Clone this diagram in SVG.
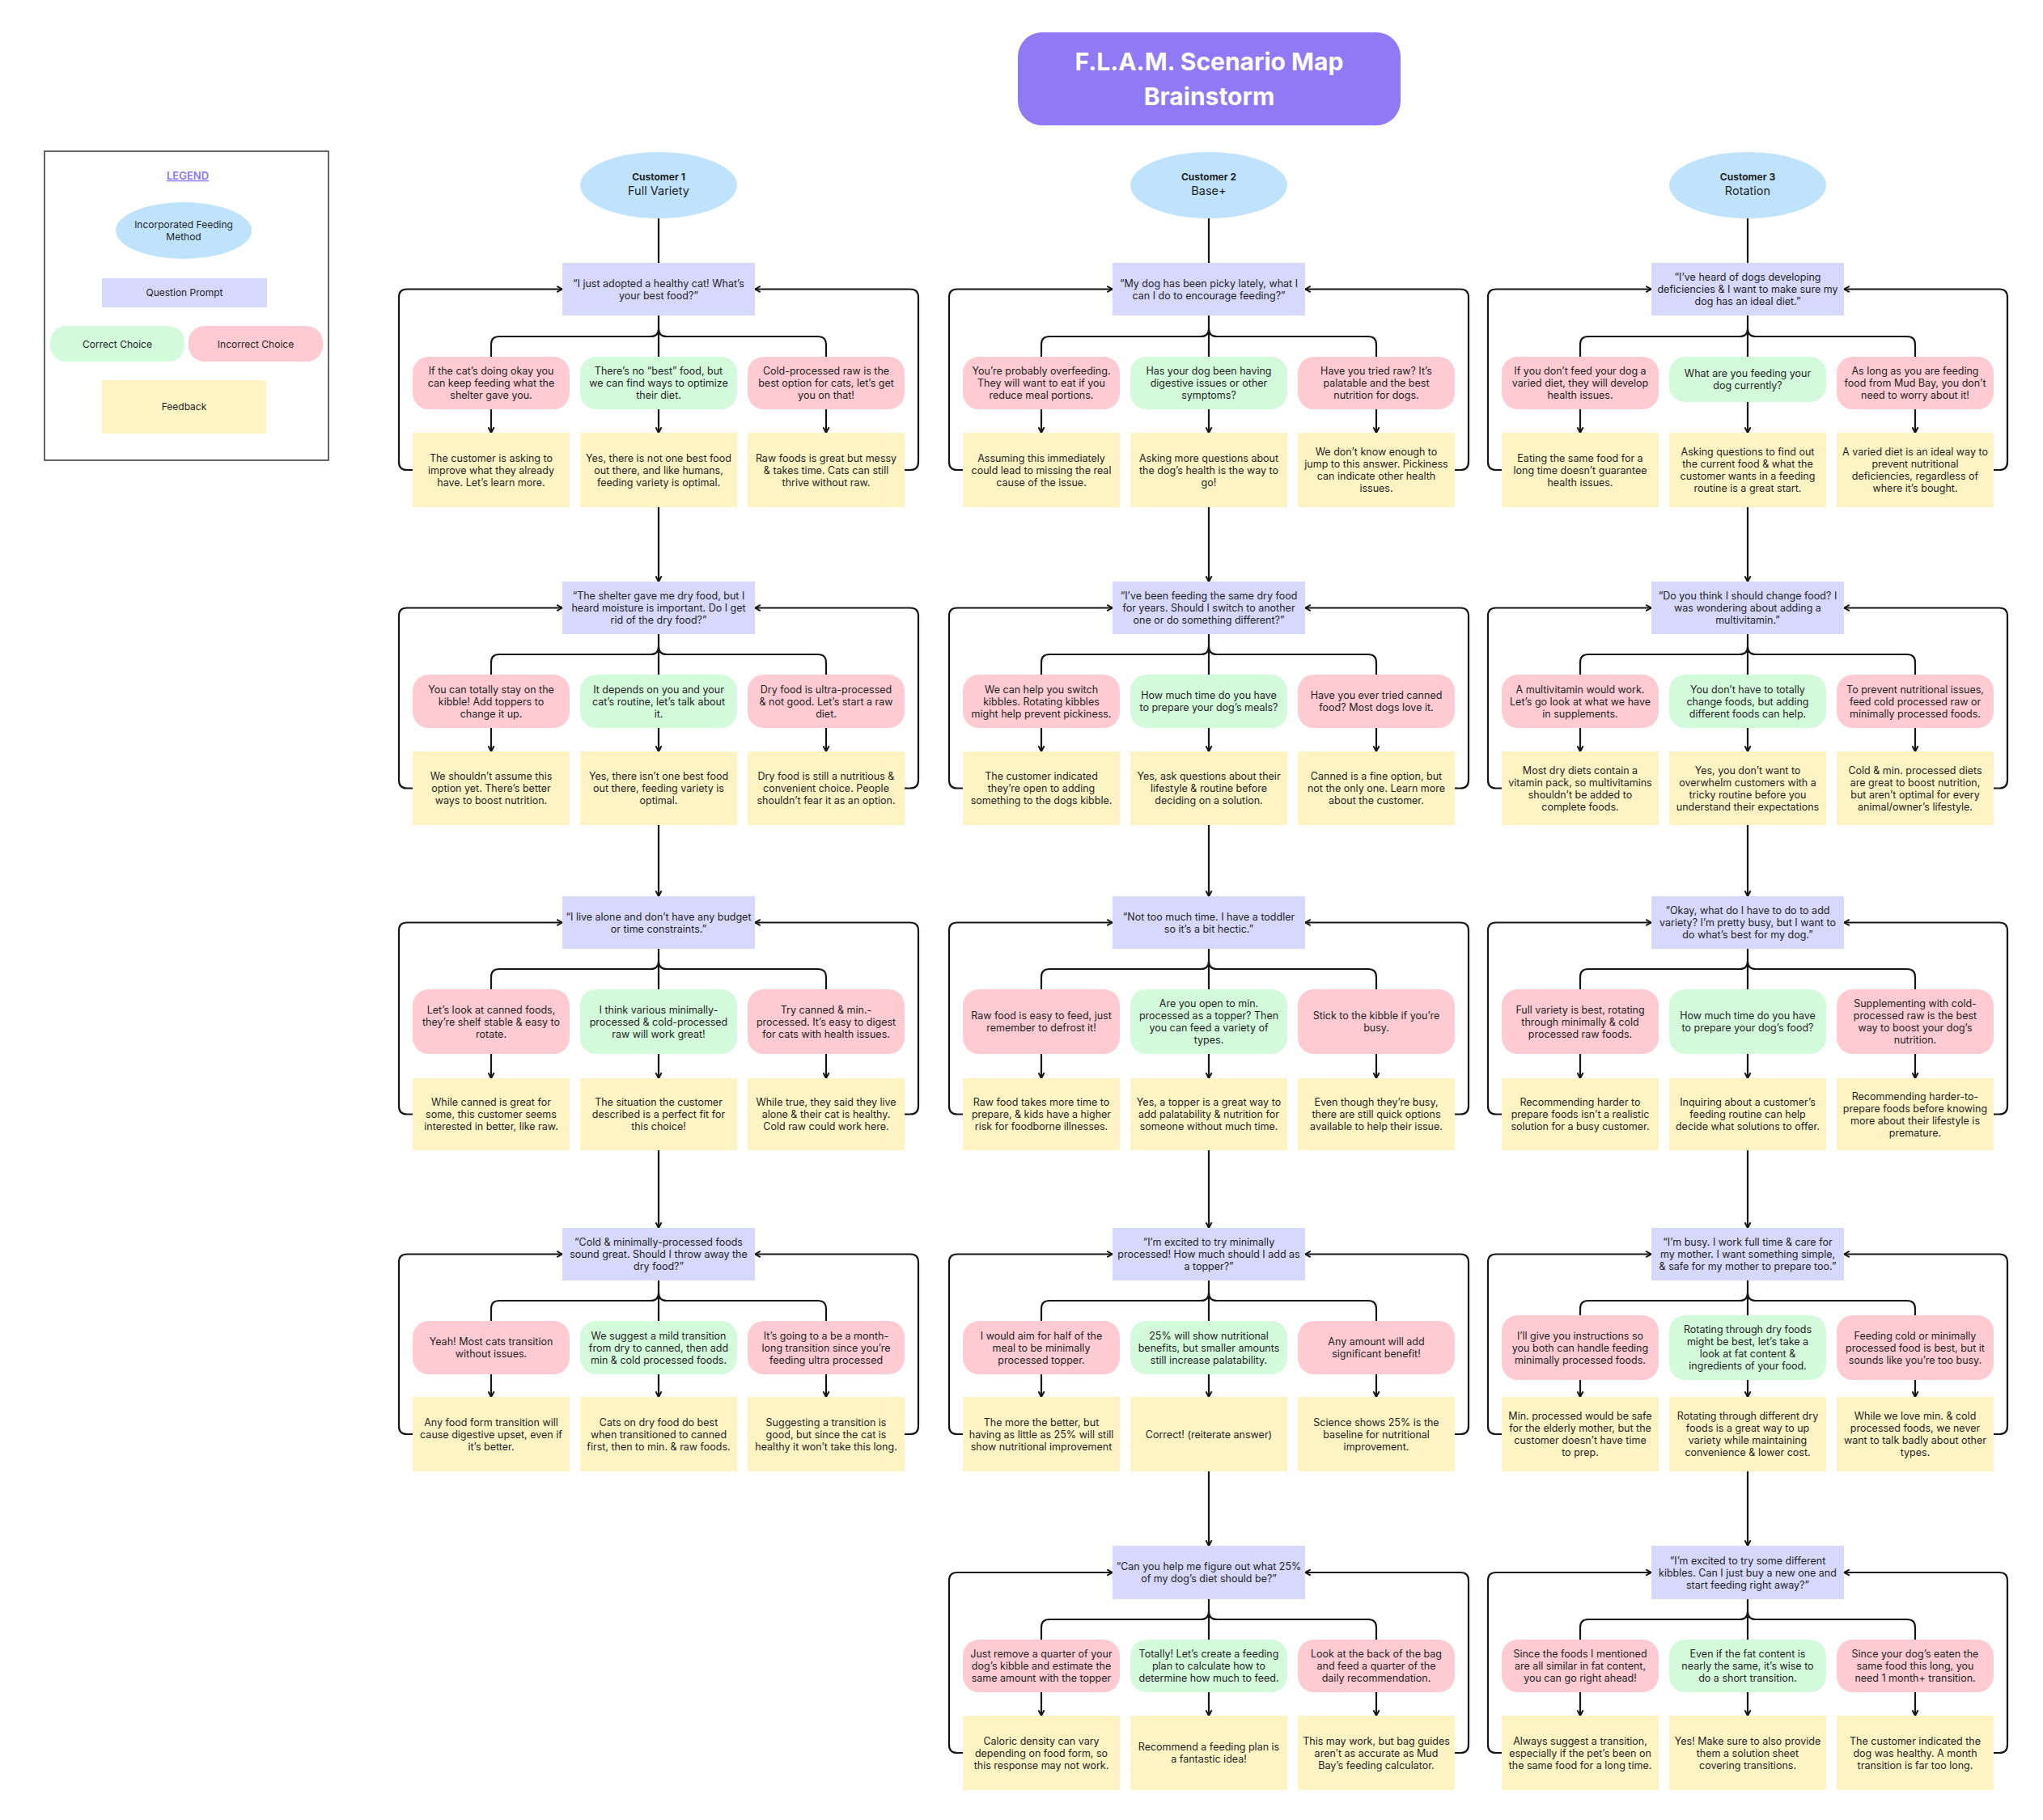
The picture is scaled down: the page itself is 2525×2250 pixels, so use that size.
<svg xmlns="http://www.w3.org/2000/svg" width="2525" height="2250" viewBox="0 0 2525 2250">
<defs>
<marker id="ah" viewBox="0 0 10 10" refX="9.5" refY="5" markerWidth="9" markerHeight="9" markerUnits="userSpaceOnUse" orient="auto">
<path d="M2,1 L9.5,5 L2,9" fill="none" stroke="#161616" stroke-width="2.2"/>
</marker>
<style>
.ln{fill:none;stroke:#161616;stroke-width:2.2}
.ar{marker-end:url(#ah)}
.t{font-family:Inter,"Liberation Sans",sans-serif;font-size:12.5px;fill:#1f1f1f;text-anchor:middle}
.ot{font-family:Inter,"Liberation Sans",sans-serif;font-size:14.5px;fill:#1f1f1f;text-anchor:middle}
.ob{font-family:Inter,"Liberation Sans",sans-serif;font-size:12px;font-weight:700;fill:#1f1f1f;text-anchor:middle}
.pr{fill:#d6d8fd}
.ok{fill:#d4fadc}
.no{fill:#fecbd2}
.fb{fill:#fef3c3}
.ov{fill:#bfe3fd}
</style>
</defs>
<rect width="2525" height="2250" fill="#ffffff"/>

<g id="title">
<rect x="1258" y="40" width="473" height="115" rx="30" fill="#9079f5"/>
<text x="1494.5" y="87" style="font-family:Inter,'Liberation Sans',sans-serif;font-size:30px;font-weight:700;fill:#ffffff;text-anchor:middle">F.L.A.M. Scenario Map</text>
<text x="1494.5" y="130" style="font-family:Inter,'Liberation Sans',sans-serif;font-size:30px;font-weight:700;fill:#ffffff;text-anchor:middle">Brainstorm</text>
</g>

<g id="legend">
<rect x="55" y="187" width="351" height="382" fill="#ffffff" stroke="#333333" stroke-width="1.5"/>
<text x="232" y="222" style="font-family:Inter,'Liberation Sans',sans-serif;font-size:13px;font-weight:600;fill:#8a78f0;text-anchor:middle;text-decoration:underline">LEGEND</text>
<ellipse class="ov" cx="227" cy="285" rx="84" ry="35"/>
<text class="t" x="227" y="282" style="font-size:12px">Incorporated Feeding<tspan x="227" dy="15">Method</tspan></text>
<rect class="pr" x="126" y="344" width="204" height="36"/>
<text class="t" x="228" y="366" style="font-size:12px">Question Prompt</text>
<rect class="ok" x="62" y="403" width="166" height="44" rx="20"/>
<text class="t" x="145" y="429.5" style="font-size:12px">Correct Choice</text>
<rect class="no" x="233" y="403" width="166" height="44" rx="20"/>
<text class="t" x="316" y="429.5" style="font-size:12px">Incorrect Choice</text>
<rect class="fb" x="126" y="470" width="203" height="66"/>
<text class="t" x="227.5" y="507" style="font-size:12px">Feedback</text>
</g>

<g id="connectors">
<!-- Column 1 -->
<path class="ln" d="M814,270V325"/>
<path class="ln" d="M814,390V441M814,406Q814,416 804,416H617Q607,416 607,426V441M814,406Q814,416 824,416H1011Q1021,416 1021,426V441"/>
<path class="ln ar" d="M607,506V535"/><path class="ln ar" d="M814,506V535"/><path class="ln ar" d="M1021,506V535"/>
<path class="ln ar" d="M510,581H503Q493,581 493,571V367.5Q493,357.5 503,357.5H695"/>
<path class="ln ar" d="M1118,581H1125Q1135,581 1135,571V367.5Q1135,357.5 1125,357.5H933"/>
<path class="ln ar" d="M814,627V719"/>

<path class="ln" d="M814,784V834M814,799Q814,809 804,809H617Q607,809 607,819V834M814,799Q814,809 824,809H1011Q1021,809 1021,819V834"/>
<path class="ln ar" d="M607,900V929"/><path class="ln ar" d="M814,900V929"/><path class="ln ar" d="M1021,900V929"/>
<path class="ln ar" d="M510,974.5H503Q493,974.5 493,964.5V761.5Q493,751.5 503,751.5H695"/>
<path class="ln ar" d="M1118,974.5H1125Q1135,974.5 1135,964.5V761.5Q1135,751.5 1125,751.5H933"/>
<path class="ln ar" d="M814,1020V1108"/>

<path class="ln" d="M814,1173V1223M814,1188Q814,1198 804,1198H617Q607,1198 607,1208V1223M814,1188Q814,1198 824,1198H1011Q1021,1198 1021,1208V1223"/>
<path class="ln ar" d="M607,1303V1333"/><path class="ln ar" d="M814,1303V1333"/><path class="ln ar" d="M1021,1303V1333"/>
<path class="ln ar" d="M510,1377.5H503Q493,1377.5 493,1367.5V1150.5Q493,1140.5 503,1140.5H695"/>
<path class="ln ar" d="M1118,1377.5H1125Q1135,1377.5 1135,1367.5V1150.5Q1135,1140.5 1125,1140.5H933"/>
<path class="ln ar" d="M814,1422V1518"/>

<path class="ln" d="M814,1583V1633M814,1598Q814,1608 804,1608H617Q607,1608 607,1618V1633M814,1598Q814,1608 824,1608H1011Q1021,1608 1021,1618V1633"/>
<path class="ln ar" d="M607,1699V1727"/><path class="ln ar" d="M814,1699V1727"/><path class="ln ar" d="M1021,1699V1727"/>
<path class="ln ar" d="M510,1773H503Q493,1773 493,1763V1560.5Q493,1550.5 503,1550.5H695"/>
<path class="ln ar" d="M1118,1773H1125Q1135,1773 1135,1763V1560.5Q1135,1550.5 1125,1550.5H933"/>

<!-- Column 2 -->
<path class="ln" d="M1494,270V325"/>
<path class="ln" d="M1494,390V441M1494,406Q1494,416 1484,416H1297Q1287,416 1287,426V441M1494,406Q1494,416 1504,416H1691Q1701,416 1701,426V441"/>
<path class="ln ar" d="M1287,506V535"/><path class="ln ar" d="M1494,506V535"/><path class="ln ar" d="M1701,506V535"/>
<path class="ln ar" d="M1190,581H1183Q1173,581 1173,571V367.5Q1173,357.5 1183,357.5H1375"/>
<path class="ln ar" d="M1798,581H1805Q1815,581 1815,571V367.5Q1815,357.5 1805,357.5H1613"/>
<path class="ln ar" d="M1494,627V719"/>

<path class="ln" d="M1494,784V834M1494,799Q1494,809 1484,809H1297Q1287,809 1287,819V834M1494,799Q1494,809 1504,809H1691Q1701,809 1701,819V834"/>
<path class="ln ar" d="M1287,900V929"/><path class="ln ar" d="M1494,900V929"/><path class="ln ar" d="M1701,900V929"/>
<path class="ln ar" d="M1190,974.5H1183Q1173,974.5 1173,964.5V761.5Q1173,751.5 1183,751.5H1375"/>
<path class="ln ar" d="M1798,974.5H1805Q1815,974.5 1815,964.5V761.5Q1815,751.5 1805,751.5H1613"/>
<path class="ln ar" d="M1494,1020V1108"/>

<path class="ln" d="M1494,1173V1223M1494,1188Q1494,1198 1484,1198H1297Q1287,1198 1287,1208V1223M1494,1188Q1494,1198 1504,1198H1691Q1701,1198 1701,1208V1223"/>
<path class="ln ar" d="M1287,1303V1333"/><path class="ln ar" d="M1494,1303V1333"/><path class="ln ar" d="M1701,1303V1333"/>
<path class="ln ar" d="M1190,1377.5H1183Q1173,1377.5 1173,1367.5V1150.5Q1173,1140.5 1183,1140.5H1375"/>
<path class="ln ar" d="M1798,1377.5H1805Q1815,1377.5 1815,1367.5V1150.5Q1815,1140.5 1805,1140.5H1613"/>
<path class="ln ar" d="M1494,1422V1518"/>

<path class="ln" d="M1494,1583V1633M1494,1598Q1494,1608 1484,1608H1297Q1287,1608 1287,1618V1633M1494,1598Q1494,1608 1504,1608H1691Q1701,1608 1701,1618V1633"/>
<path class="ln ar" d="M1287,1699V1727"/><path class="ln ar" d="M1494,1699V1727"/><path class="ln ar" d="M1701,1699V1727"/>
<path class="ln ar" d="M1190,1773H1183Q1173,1773 1173,1763V1560.5Q1173,1550.5 1183,1550.5H1375"/>
<path class="ln ar" d="M1798,1773H1805Q1815,1773 1815,1763V1560.5Q1815,1550.5 1805,1550.5H1613"/>
<path class="ln ar" d="M1494,1819V1911"/>

<path class="ln" d="M1494,1977V2027M1494,1992Q1494,2002 1484,2002H1297Q1287,2002 1287,2012V2027M1494,1992Q1494,2002 1504,2002H1691Q1701,2002 1701,2012V2027"/>
<path class="ln ar" d="M1287,2092V2121"/><path class="ln ar" d="M1494,2092V2121"/><path class="ln ar" d="M1701,2092V2121"/>
<path class="ln ar" d="M1190,2167H1183Q1173,2167 1173,2157V1954Q1173,1944 1183,1944H1375"/>
<path class="ln ar" d="M1798,2167H1805Q1815,2167 1815,2157V1954Q1815,1944 1805,1944H1613"/>

<!-- Column 3 -->
<path class="ln" d="M2160,270V325"/>
<path class="ln" d="M2160,390V441M2160,406Q2160,416 2150,416H1963Q1953,416 1953,426V441M2160,406Q2160,416 2170,416H2357Q2367,416 2367,426V441"/>
<path class="ln ar" d="M1953,506V535"/><path class="ln ar" d="M2160,497V535"/><path class="ln ar" d="M2367,506V535"/>
<path class="ln ar" d="M1856,581H1849Q1839,581 1839,571V367.5Q1839,357.5 1849,357.5H2041"/>
<path class="ln ar" d="M2464,581H2471Q2481,581 2481,571V367.5Q2481,357.5 2471,357.5H2279"/>
<path class="ln ar" d="M2160,627V719"/>

<path class="ln" d="M2160,784V834M2160,799Q2160,809 2150,809H1963Q1953,809 1953,819V834M2160,799Q2160,809 2170,809H2357Q2367,809 2367,819V834"/>
<path class="ln ar" d="M1953,900V929"/><path class="ln ar" d="M2160,900V929"/><path class="ln ar" d="M2367,900V929"/>
<path class="ln ar" d="M1856,974.5H1849Q1839,974.5 1839,964.5V761.5Q1839,751.5 1849,751.5H2041"/>
<path class="ln ar" d="M2464,974.5H2471Q2481,974.5 2481,964.5V761.5Q2481,751.5 2471,751.5H2279"/>
<path class="ln ar" d="M2160,1020V1108"/>

<path class="ln" d="M2160,1173V1223M2160,1188Q2160,1198 2150,1198H1963Q1953,1198 1953,1208V1223M2160,1188Q2160,1198 2170,1198H2357Q2367,1198 2367,1208V1223"/>
<path class="ln ar" d="M1953,1303V1333"/><path class="ln ar" d="M2160,1303V1333"/><path class="ln ar" d="M2367,1303V1333"/>
<path class="ln ar" d="M1856,1377.5H1849Q1839,1377.5 1839,1367.5V1150.5Q1839,1140.5 1849,1140.5H2041"/>
<path class="ln ar" d="M2464,1377.5H2471Q2481,1377.5 2481,1367.5V1150.5Q2481,1140.5 2471,1140.5H2279"/>
<path class="ln ar" d="M2160,1422V1518"/>

<path class="ln" d="M2160,1583V1626M2160,1598Q2160,1608 2150,1608H1963Q1953,1608 1953,1618V1626M2160,1598Q2160,1608 2170,1608H2357Q2367,1608 2367,1618V1626"/>
<path class="ln ar" d="M1953,1706V1727"/><path class="ln ar" d="M2160,1706V1727"/><path class="ln ar" d="M2367,1706V1727"/>
<path class="ln ar" d="M1856,1773H1849Q1839,1773 1839,1763V1560.5Q1839,1550.5 1849,1550.5H2041"/>
<path class="ln ar" d="M2464,1773H2471Q2481,1773 2481,1763V1560.5Q2481,1550.5 2471,1550.5H2279"/>
<path class="ln ar" d="M2160,1819V1911"/>

<path class="ln" d="M2160,1977V2027M2160,1992Q2160,2002 2150,2002H1963Q1953,2002 1953,2012V2027M2160,1992Q2160,2002 2170,2002H2357Q2367,2002 2367,2012V2027"/>
<path class="ln ar" d="M1953,2092V2121"/><path class="ln ar" d="M2160,2092V2121"/><path class="ln ar" d="M2367,2092V2121"/>
<path class="ln ar" d="M1856,2167H1849Q1839,2167 1839,2157V1954Q1839,1944 1849,1944H2041"/>
<path class="ln ar" d="M2464,2167H2471Q2481,2167 2481,2157V1954Q2481,1944 2471,1944H2279"/>
</g>

<!-- ================= CUSTOMER 1 ================= -->
<g id="c1-customer"><ellipse class="ov" cx="814" cy="229" rx="97" ry="41"/><text class="ob" x="814" y="223">Customer 1</text><text class="ot" x="814" y="241">Full Variety</text></g>

<g id="c1-r1-q"><rect class="pr" x="695" y="325" width="238" height="65"/><text class="t" x="814" y="354.5">“I just adopted a healthy cat! What’s<tspan x="814" dy="15">your best food?”</tspan></text></g>
<g id="c1-r1-a"><rect class="no" x="510" y="441" width="194" height="65" rx="20"/><text class="t" x="607" y="463">If the cat’s doing okay you<tspan x="607" dy="15">can keep feeding what the</tspan><tspan x="607" dy="15">shelter gave you.</tspan></text></g>
<g id="c1-r1-b"><rect class="ok" x="717" y="441" width="194" height="65" rx="20"/><text class="t" x="814" y="463">There’s no “best” food, but<tspan x="814" dy="15">we can find ways to optimize</tspan><tspan x="814" dy="15">their diet.</tspan></text></g>
<g id="c1-r1-c"><rect class="no" x="924" y="441" width="194" height="65" rx="20"/><text class="t" x="1021" y="463">Cold-processed raw is the<tspan x="1021" dy="15">best option for cats, let’s get</tspan><tspan x="1021" dy="15">you on that!</tspan></text></g>
<g id="c1-r1-fa"><rect class="fb" x="510" y="535" width="194" height="92"/><text class="t" x="607" y="570.5">The customer is asking to<tspan x="607" dy="15">improve what they already</tspan><tspan x="607" dy="15">have. Let’s learn more.</tspan></text></g>
<g id="c1-r1-fb"><rect class="fb" x="717" y="535" width="194" height="92"/><text class="t" x="814" y="570.5">Yes, there is not one best food<tspan x="814" dy="15">out there, and like humans,</tspan><tspan x="814" dy="15">feeding variety is optimal.</tspan></text></g>
<g id="c1-r1-fc"><rect class="fb" x="924" y="535" width="194" height="92"/><text class="t" x="1021" y="570.5">Raw foods is great but messy<tspan x="1021" dy="15">&amp; takes time. Cats can still</tspan><tspan x="1021" dy="15">thrive without raw.</tspan></text></g>

<g id="c1-r2-q"><rect class="pr" x="695" y="719" width="238" height="65"/><text class="t" x="814" y="741">“The shelter gave me dry food, but I<tspan x="814" dy="15">heard moisture is important. Do I get</tspan><tspan x="814" dy="15">rid of the dry food?”</tspan></text></g>
<g id="c1-r2-a"><rect class="no" x="510" y="834" width="194" height="66" rx="20"/><text class="t" x="607" y="856.5">You can totally stay on the<tspan x="607" dy="15">kibble! Add toppers to</tspan><tspan x="607" dy="15">change it up.</tspan></text></g>
<g id="c1-r2-b"><rect class="ok" x="717" y="834" width="194" height="66" rx="20"/><text class="t" x="814" y="856.5">It depends on you and your<tspan x="814" dy="15">cat’s routine, let’s talk about</tspan><tspan x="814" dy="15">it.</tspan></text></g>
<g id="c1-r2-c"><rect class="no" x="924" y="834" width="194" height="66" rx="20"/><text class="t" x="1021" y="856.5">Dry food is ultra-processed<tspan x="1021" dy="15">&amp; not good. Let’s start a raw</tspan><tspan x="1021" dy="15">diet.</tspan></text></g>
<g id="c1-r2-fa"><rect class="fb" x="510" y="929" width="194" height="91"/><text class="t" x="607" y="964">We shouldn’t assume this<tspan x="607" dy="15">option yet. There’s better</tspan><tspan x="607" dy="15">ways to boost nutrition.</tspan></text></g>
<g id="c1-r2-fb"><rect class="fb" x="717" y="929" width="194" height="91"/><text class="t" x="814" y="964">Yes, there isn’t one best food<tspan x="814" dy="15">out there, feeding variety is</tspan><tspan x="814" dy="15">optimal.</tspan></text></g>
<g id="c1-r2-fc"><rect class="fb" x="924" y="929" width="194" height="91"/><text class="t" x="1021" y="964">Dry food is still a nutritious &amp;<tspan x="1021" dy="15">convenient choice. People</tspan><tspan x="1021" dy="15">shouldn’t fear it as an option.</tspan></text></g>

<g id="c1-r3-q"><rect class="pr" x="695" y="1108" width="238" height="65"/><text class="t" x="814" y="1137.5">“I live alone and don’t have any budget<tspan x="814" dy="15">or time constraints.”</tspan></text></g>
<g id="c1-r3-a"><rect class="no" x="510" y="1223" width="194" height="80" rx="20"/><text class="t" x="607" y="1252.5">Let’s look at canned foods,<tspan x="607" dy="15">they’re shelf stable &amp; easy to</tspan><tspan x="607" dy="15">rotate.</tspan></text></g>
<g id="c1-r3-b"><rect class="ok" x="717" y="1223" width="194" height="80" rx="20"/><text class="t" x="814" y="1252.5">I think various minimally-<tspan x="814" dy="15">processed &amp; cold-processed</tspan><tspan x="814" dy="15">raw will work great!</tspan></text></g>
<g id="c1-r3-c"><rect class="no" x="924" y="1223" width="194" height="80" rx="20"/><text class="t" x="1021" y="1252.5">Try canned &amp; min.-<tspan x="1021" dy="15">processed. It’s easy to digest</tspan><tspan x="1021" dy="15">for cats with health issues.</tspan></text></g>
<g id="c1-r3-fa"><rect class="fb" x="510" y="1333" width="194" height="89"/><text class="t" x="607" y="1367">While canned is great for<tspan x="607" dy="15">some, this customer seems</tspan><tspan x="607" dy="15">interested in better, like raw.</tspan></text></g>
<g id="c1-r3-fb"><rect class="fb" x="717" y="1333" width="194" height="89"/><text class="t" x="814" y="1367">The situation the customer<tspan x="814" dy="15">described is a perfect fit for</tspan><tspan x="814" dy="15">this choice!</tspan></text></g>
<g id="c1-r3-fc"><rect class="fb" x="924" y="1333" width="194" height="89"/><text class="t" x="1021" y="1367">While true, they said they live<tspan x="1021" dy="15">alone &amp; their cat is healthy.</tspan><tspan x="1021" dy="15">Cold raw could work here.</tspan></text></g>

<g id="c1-r4-q"><rect class="pr" x="695" y="1518" width="238" height="65"/><text class="t" x="814" y="1540">“Cold &amp; minimally-processed foods<tspan x="814" dy="15">sound great. Should I throw away the</tspan><tspan x="814" dy="15">dry food?”</tspan></text></g>
<g id="c1-r4-a"><rect class="no" x="510" y="1633" width="194" height="66" rx="20"/><text class="t" x="607" y="1663">Yeah! Most cats transition<tspan x="607" dy="15">without issues.</tspan></text></g>
<g id="c1-r4-b"><rect class="ok" x="717" y="1633" width="194" height="66" rx="20"/><text class="t" x="814" y="1655.5">We suggest a mild transition<tspan x="814" dy="15">from dry to canned, then add</tspan><tspan x="814" dy="15">min &amp; cold processed foods.</tspan></text></g>
<g id="c1-r4-c"><rect class="no" x="924" y="1633" width="194" height="66" rx="20"/><text class="t" x="1021" y="1655.5">It’s going to a be a month-<tspan x="1021" dy="15">long transition since you’re</tspan><tspan x="1021" dy="15">feeding ultra processed</tspan></text></g>
<g id="c1-r4-fa"><rect class="fb" x="510" y="1727" width="194" height="92"/><text class="t" x="607" y="1762.5">Any food form transition will<tspan x="607" dy="15">cause digestive upset, even if</tspan><tspan x="607" dy="15">it’s better.</tspan></text></g>
<g id="c1-r4-fb"><rect class="fb" x="717" y="1727" width="194" height="92"/><text class="t" x="814" y="1762.5">Cats on dry food do best<tspan x="814" dy="15">when transitioned to canned</tspan><tspan x="814" dy="15">first, then to min. &amp; raw foods.</tspan></text></g>
<g id="c1-r4-fc"><rect class="fb" x="924" y="1727" width="194" height="92"/><text class="t" x="1021" y="1762.5">Suggesting a transition is<tspan x="1021" dy="15">good, but since the cat is</tspan><tspan x="1021" dy="15">healthy it won’t take this long.</tspan></text></g>

<!-- ================= CUSTOMER 2 ================= -->
<g id="c2-customer"><ellipse class="ov" cx="1494" cy="229" rx="97" ry="41"/><text class="ob" x="1494" y="223">Customer 2</text><text class="ot" x="1494" y="241">Base+</text></g>

<g id="c2-r1-q"><rect class="pr" x="1375" y="325" width="238" height="65"/><text class="t" x="1494" y="354.5">“My dog has been picky lately, what I<tspan x="1494" dy="15">can I do to encourage feeding?”</tspan></text></g>
<g id="c2-r1-a"><rect class="no" x="1190" y="441" width="194" height="65" rx="20"/><text class="t" x="1287" y="463">You’re probably overfeeding.<tspan x="1287" dy="15">They will want to eat if you</tspan><tspan x="1287" dy="15">reduce meal portions.</tspan></text></g>
<g id="c2-r1-b"><rect class="ok" x="1397" y="441" width="194" height="65" rx="20"/><text class="t" x="1494" y="463">Has your dog been having<tspan x="1494" dy="15">digestive issues or other</tspan><tspan x="1494" dy="15">symptoms?</tspan></text></g>
<g id="c2-r1-c"><rect class="no" x="1604" y="441" width="194" height="65" rx="20"/><text class="t" x="1701" y="463">Have you tried raw? It’s<tspan x="1701" dy="15">palatable and the best</tspan><tspan x="1701" dy="15">nutrition for dogs.</tspan></text></g>
<g id="c2-r1-fa"><rect class="fb" x="1190" y="535" width="194" height="92"/><text class="t" x="1287" y="570.5">Assuming this immediately<tspan x="1287" dy="15">could lead to missing the real</tspan><tspan x="1287" dy="15">cause of the issue.</tspan></text></g>
<g id="c2-r1-fb"><rect class="fb" x="1397" y="535" width="194" height="92"/><text class="t" x="1494" y="570.5">Asking more questions about<tspan x="1494" dy="15">the dog’s health is the way to</tspan><tspan x="1494" dy="15">go!</tspan></text></g>
<g id="c2-r1-fc"><rect class="fb" x="1604" y="535" width="194" height="92"/><text class="t" x="1701" y="563">We don’t know enough to<tspan x="1701" dy="15">jump to this answer. Pickiness</tspan><tspan x="1701" dy="15">can indicate other health</tspan><tspan x="1701" dy="15">issues.</tspan></text></g>

<g id="c2-r2-q"><rect class="pr" x="1375" y="719" width="238" height="65"/><text class="t" x="1494" y="741">“I’ve been feeding the same dry food<tspan x="1494" dy="15">for years. Should I switch to another</tspan><tspan x="1494" dy="15">one or do something different?”</tspan></text></g>
<g id="c2-r2-a"><rect class="no" x="1190" y="834" width="194" height="66" rx="20"/><text class="t" x="1287" y="856.5">We can help you switch<tspan x="1287" dy="15">kibbles. Rotating kibbles</tspan><tspan x="1287" dy="15">might help prevent pickiness.</tspan></text></g>
<g id="c2-r2-b"><rect class="ok" x="1397" y="834" width="194" height="66" rx="20"/><text class="t" x="1494" y="864">How much time do you have<tspan x="1494" dy="15">to prepare your dog’s meals?</tspan></text></g>
<g id="c2-r2-c"><rect class="no" x="1604" y="834" width="194" height="66" rx="20"/><text class="t" x="1701" y="864">Have you ever tried canned<tspan x="1701" dy="15">food? Most dogs love it.</tspan></text></g>
<g id="c2-r2-fa"><rect class="fb" x="1190" y="929" width="194" height="91"/><text class="t" x="1287" y="964">The customer indicated<tspan x="1287" dy="15">they’re open to adding</tspan><tspan x="1287" dy="15">something to the dogs kibble.</tspan></text></g>
<g id="c2-r2-fb"><rect class="fb" x="1397" y="929" width="194" height="91"/><text class="t" x="1494" y="964">Yes, ask questions about their<tspan x="1494" dy="15">lifestyle &amp; routine before</tspan><tspan x="1494" dy="15">deciding on a solution.</tspan></text></g>
<g id="c2-r2-fc"><rect class="fb" x="1604" y="929" width="194" height="91"/><text class="t" x="1701" y="964">Canned is a fine option, but<tspan x="1701" dy="15">not the only one. Learn more</tspan><tspan x="1701" dy="15">about the customer.</tspan></text></g>

<g id="c2-r3-q"><rect class="pr" x="1375" y="1108" width="238" height="65"/><text class="t" x="1494" y="1137.5">“Not too much time. I have a toddler<tspan x="1494" dy="15">so it’s a bit hectic.”</tspan></text></g>
<g id="c2-r3-a"><rect class="no" x="1190" y="1223" width="194" height="80" rx="20"/><text class="t" x="1287" y="1260">Raw food is easy to feed, just<tspan x="1287" dy="15">remember to defrost it!</tspan></text></g>
<g id="c2-r3-b"><rect class="ok" x="1397" y="1223" width="194" height="80" rx="20"/><text class="t" x="1494" y="1245">Are you open to min.<tspan x="1494" dy="15">processed as a topper? Then</tspan><tspan x="1494" dy="15">you can feed a variety of</tspan><tspan x="1494" dy="15">types.</tspan></text></g>
<g id="c2-r3-c"><rect class="no" x="1604" y="1223" width="194" height="80" rx="20"/><text class="t" x="1701" y="1260">Stick to the kibble if you’re<tspan x="1701" dy="15">busy.</tspan></text></g>
<g id="c2-r3-fa"><rect class="fb" x="1190" y="1333" width="194" height="89"/><text class="t" x="1287" y="1367">Raw food takes more time to<tspan x="1287" dy="15">prepare, &amp; kids have a higher</tspan><tspan x="1287" dy="15">risk for foodborne illnesses.</tspan></text></g>
<g id="c2-r3-fb"><rect class="fb" x="1397" y="1333" width="194" height="89"/><text class="t" x="1494" y="1367">Yes, a topper is a great way to<tspan x="1494" dy="15">add palatability &amp; nutrition for</tspan><tspan x="1494" dy="15">someone without much time.</tspan></text></g>
<g id="c2-r3-fc"><rect class="fb" x="1604" y="1333" width="194" height="89"/><text class="t" x="1701" y="1367">Even though they’re busy,<tspan x="1701" dy="15">there are still quick options</tspan><tspan x="1701" dy="15">available to help their issue.</tspan></text></g>

<g id="c2-r4-q"><rect class="pr" x="1375" y="1518" width="238" height="65"/><text class="t" x="1494" y="1540">“I’m excited to try minimally<tspan x="1494" dy="15">processed! How much should I add as</tspan><tspan x="1494" dy="15">a topper?”</tspan></text></g>
<g id="c2-r4-a"><rect class="no" x="1190" y="1633" width="194" height="66" rx="20"/><text class="t" x="1287" y="1655.5">I would aim for half of the<tspan x="1287" dy="15">meal to be minimally</tspan><tspan x="1287" dy="15">processed topper.</tspan></text></g>
<g id="c2-r4-b"><rect class="ok" x="1397" y="1633" width="194" height="66" rx="20"/><text class="t" x="1494" y="1655.5">25% will show nutritional<tspan x="1494" dy="15">benefits, but smaller amounts</tspan><tspan x="1494" dy="15">still increase palatability.</tspan></text></g>
<g id="c2-r4-c"><rect class="no" x="1604" y="1633" width="194" height="66" rx="20"/><text class="t" x="1701" y="1663">Any amount will add<tspan x="1701" dy="15">significant benefit!</tspan></text></g>
<g id="c2-r4-fa"><rect class="fb" x="1190" y="1727" width="194" height="92"/><text class="t" x="1287" y="1762.5">The more the better, but<tspan x="1287" dy="15">having as little as 25% will still</tspan><tspan x="1287" dy="15">show nutritional improvement</tspan></text></g>
<g id="c2-r4-fb"><rect class="fb" x="1397" y="1727" width="194" height="92"/><text class="t" x="1494" y="1777.5">Correct! (reiterate answer)</text></g>
<g id="c2-r4-fc"><rect class="fb" x="1604" y="1727" width="194" height="92"/><text class="t" x="1701" y="1762.5">Science shows 25% is the<tspan x="1701" dy="15">baseline for nutritional</tspan><tspan x="1701" dy="15">improvement.</tspan></text></g>

<g id="c2-r5-q"><rect class="pr" x="1375" y="1911" width="238" height="66"/><text class="t" x="1494" y="1941">“Can you help me figure out what 25%<tspan x="1494" dy="15">of my dog’s diet should be?”</tspan></text></g>
<g id="c2-r5-a"><rect class="no" x="1190" y="2027" width="194" height="65" rx="20"/><text class="t" x="1287" y="2049">Just remove a quarter of your<tspan x="1287" dy="15">dog’s kibble and estimate the</tspan><tspan x="1287" dy="15">same amount with the topper</tspan></text></g>
<g id="c2-r5-b"><rect class="ok" x="1397" y="2027" width="194" height="65" rx="20"/><text class="t" x="1494" y="2049">Totally! Let’s create a feeding<tspan x="1494" dy="15">plan to calculate how to</tspan><tspan x="1494" dy="15">determine how much to feed.</tspan></text></g>
<g id="c2-r5-c"><rect class="no" x="1604" y="2027" width="194" height="65" rx="20"/><text class="t" x="1701" y="2049">Look at the back of the bag<tspan x="1701" dy="15">and feed a quarter of the</tspan><tspan x="1701" dy="15">daily recommendation.</tspan></text></g>
<g id="c2-r5-fa"><rect class="fb" x="1190" y="2121" width="194" height="92"/><text class="t" x="1287" y="2156.5">Caloric density can vary<tspan x="1287" dy="15">depending on food form, so</tspan><tspan x="1287" dy="15">this response may not work.</tspan></text></g>
<g id="c2-r5-fb"><rect class="fb" x="1397" y="2121" width="194" height="92"/><text class="t" x="1494" y="2164">Recommend a feeding plan is<tspan x="1494" dy="15">a fantastic idea!</tspan></text></g>
<g id="c2-r5-fc"><rect class="fb" x="1604" y="2121" width="194" height="92"/><text class="t" x="1701" y="2156.5">This may work, but bag guides<tspan x="1701" dy="15">aren’t as accurate as Mud</tspan><tspan x="1701" dy="15">Bay’s feeding calculator.</tspan></text></g>

<!-- ================= CUSTOMER 3 ================= -->
<g id="c3-customer"><ellipse class="ov" cx="2160" cy="229" rx="97" ry="41"/><text class="ob" x="2160" y="223">Customer 3</text><text class="ot" x="2160" y="241">Rotation</text></g>

<g id="c3-r1-q"><rect class="pr" x="2041" y="325" width="238" height="65"/><text class="t" x="2160" y="347">“I’ve heard of dogs developing<tspan x="2160" dy="15">deficiencies &amp; I want to make sure my</tspan><tspan x="2160" dy="15">dog has an ideal diet.”</tspan></text></g>
<g id="c3-r1-a"><rect class="no" x="1856" y="441" width="194" height="65" rx="20"/><text class="t" x="1953" y="463">If you don’t feed your dog a<tspan x="1953" dy="15">varied diet, they will develop</tspan><tspan x="1953" dy="15">health issues.</tspan></text></g>
<g id="c3-r1-b"><rect class="ok" x="2063" y="441" width="194" height="56" rx="20"/><text class="t" x="2160" y="466">What are you feeding your<tspan x="2160" dy="15">dog currently?</tspan></text></g>
<g id="c3-r1-c"><rect class="no" x="2270" y="441" width="194" height="65" rx="20"/><text class="t" x="2367" y="463">As long as you are feeding<tspan x="2367" dy="15">food from Mud Bay, you don’t</tspan><tspan x="2367" dy="15">need to worry about it!</tspan></text></g>
<g id="c3-r1-fa"><rect class="fb" x="1856" y="535" width="194" height="92"/><text class="t" x="1953" y="570.5">Eating the same food for a<tspan x="1953" dy="15">long time doesn’t guarantee</tspan><tspan x="1953" dy="15">health issues.</tspan></text></g>
<g id="c3-r1-fb"><rect class="fb" x="2063" y="535" width="194" height="92"/><text class="t" x="2160" y="563">Asking questions to find out<tspan x="2160" dy="15">the current food &amp; what the</tspan><tspan x="2160" dy="15">customer wants in a feeding</tspan><tspan x="2160" dy="15">routine is a great start.</tspan></text></g>
<g id="c3-r1-fc"><rect class="fb" x="2270" y="535" width="194" height="92"/><text class="t" x="2367" y="563">A varied diet is an ideal way to<tspan x="2367" dy="15">prevent nutritional</tspan><tspan x="2367" dy="15">deficiencies, regardless of</tspan><tspan x="2367" dy="15">where it’s bought.</tspan></text></g>

<g id="c3-r2-q"><rect class="pr" x="2041" y="719" width="238" height="65"/><text class="t" x="2160" y="741">“Do you think I should change food? I<tspan x="2160" dy="15">was wondering about adding a</tspan><tspan x="2160" dy="15">multivitamin.”</tspan></text></g>
<g id="c3-r2-a"><rect class="no" x="1856" y="834" width="194" height="66" rx="20"/><text class="t" x="1953" y="856.5">A multivitamin would work.<tspan x="1953" dy="15">Let’s go look at what we have</tspan><tspan x="1953" dy="15">in supplements.</tspan></text></g>
<g id="c3-r2-b"><rect class="ok" x="2063" y="834" width="194" height="66" rx="20"/><text class="t" x="2160" y="856.5">You don’t have to totally<tspan x="2160" dy="15">change foods, but adding</tspan><tspan x="2160" dy="15">different foods can help.</tspan></text></g>
<g id="c3-r2-c"><rect class="no" x="2270" y="834" width="194" height="66" rx="20"/><text class="t" x="2367" y="856.5">To prevent nutritional issues,<tspan x="2367" dy="15">feed cold processed raw or</tspan><tspan x="2367" dy="15">minimally processed foods.</tspan></text></g>
<g id="c3-r2-fa"><rect class="fb" x="1856" y="929" width="194" height="91"/><text class="t" x="1953" y="956.5">Most dry diets contain a<tspan x="1953" dy="15">vitamin pack, so multivitamins</tspan><tspan x="1953" dy="15">shouldn’t be added to</tspan><tspan x="1953" dy="15">complete foods.</tspan></text></g>
<g id="c3-r2-fb"><rect class="fb" x="2063" y="929" width="194" height="91"/><text class="t" x="2160" y="956.5">Yes, you don’t want to<tspan x="2160" dy="15">overwhelm customers with a</tspan><tspan x="2160" dy="15">tricky routine before you</tspan><tspan x="2160" dy="15">understand their expectations</tspan></text></g>
<g id="c3-r2-fc"><rect class="fb" x="2270" y="929" width="194" height="91"/><text class="t" x="2367" y="956.5">Cold &amp; min. processed diets<tspan x="2367" dy="15">are great to boost nutrition,</tspan><tspan x="2367" dy="15">but aren’t optimal for every</tspan><tspan x="2367" dy="15">animal/owner’s lifestyle.</tspan></text></g>

<g id="c3-r3-q"><rect class="pr" x="2041" y="1108" width="238" height="65"/><text class="t" x="2160" y="1130">“Okay, what do I have to do to add<tspan x="2160" dy="15">variety? I’m pretty busy, but I want to</tspan><tspan x="2160" dy="15">do what’s best for my dog.”</tspan></text></g>
<g id="c3-r3-a"><rect class="no" x="1856" y="1223" width="194" height="80" rx="20"/><text class="t" x="1953" y="1252.5">Full variety is best, rotating<tspan x="1953" dy="15">through minimally &amp; cold</tspan><tspan x="1953" dy="15">processed raw foods.</tspan></text></g>
<g id="c3-r3-b"><rect class="ok" x="2063" y="1223" width="194" height="80" rx="20"/><text class="t" x="2160" y="1260">How much time do you have<tspan x="2160" dy="15">to prepare your dog’s food?</tspan></text></g>
<g id="c3-r3-c"><rect class="no" x="2270" y="1223" width="194" height="80" rx="20"/><text class="t" x="2367" y="1245">Supplementing with cold-<tspan x="2367" dy="15">processed raw is the best</tspan><tspan x="2367" dy="15">way to boost your dog’s</tspan><tspan x="2367" dy="15">nutrition.</tspan></text></g>
<g id="c3-r3-fa"><rect class="fb" x="1856" y="1333" width="194" height="89"/><text class="t" x="1953" y="1367">Recommending harder to<tspan x="1953" dy="15">prepare foods isn’t a realistic</tspan><tspan x="1953" dy="15">solution for a busy customer.</tspan></text></g>
<g id="c3-r3-fb"><rect class="fb" x="2063" y="1333" width="194" height="89"/><text class="t" x="2160" y="1367">Inquiring about a customer’s<tspan x="2160" dy="15">feeding routine can help</tspan><tspan x="2160" dy="15">decide what solutions to offer.</tspan></text></g>
<g id="c3-r3-fc"><rect class="fb" x="2270" y="1333" width="194" height="89"/><text class="t" x="2367" y="1359.5">Recommending harder-to-<tspan x="2367" dy="15">prepare foods before knowing</tspan><tspan x="2367" dy="15">more about their lifestyle is</tspan><tspan x="2367" dy="15">premature.</tspan></text></g>

<g id="c3-r4-q"><rect class="pr" x="2041" y="1518" width="238" height="65"/><text class="t" x="2160" y="1540">“I’m busy. I work full time &amp; care for<tspan x="2160" dy="15">my mother. I want something simple,</tspan><tspan x="2160" dy="15">&amp; safe for my mother to prepare too.”</tspan></text></g>
<g id="c3-r4-a"><rect class="no" x="1856" y="1626" width="194" height="80" rx="20"/><text class="t" x="1953" y="1655.5">I’ll give you instructions so<tspan x="1953" dy="15">you both can handle feeding</tspan><tspan x="1953" dy="15">minimally processed foods.</tspan></text></g>
<g id="c3-r4-b"><rect class="ok" x="2063" y="1626" width="194" height="80" rx="20"/><text class="t" x="2160" y="1648">Rotating through dry foods<tspan x="2160" dy="15">might be best, let’s take a</tspan><tspan x="2160" dy="15">look at fat content &amp;</tspan><tspan x="2160" dy="15">ingredients of your food.</tspan></text></g>
<g id="c3-r4-c"><rect class="no" x="2270" y="1626" width="194" height="80" rx="20"/><text class="t" x="2367" y="1655.5">Feeding cold or minimally<tspan x="2367" dy="15">processed food is best, but it</tspan><tspan x="2367" dy="15">sounds like you’re too busy.</tspan></text></g>
<g id="c3-r4-fa"><rect class="fb" x="1856" y="1727" width="194" height="92"/><text class="t" x="1953" y="1755">Min. processed would be safe<tspan x="1953" dy="15">for the elderly mother, but the</tspan><tspan x="1953" dy="15">customer doesn’t have time</tspan><tspan x="1953" dy="15">to prep.</tspan></text></g>
<g id="c3-r4-fb"><rect class="fb" x="2063" y="1727" width="194" height="92"/><text class="t" x="2160" y="1755">Rotating through different dry<tspan x="2160" dy="15">foods is a great way to up</tspan><tspan x="2160" dy="15">variety while maintaining</tspan><tspan x="2160" dy="15">convenience &amp; lower cost.</tspan></text></g>
<g id="c3-r4-fc"><rect class="fb" x="2270" y="1727" width="194" height="92"/><text class="t" x="2367" y="1755">While we love min. &amp; cold<tspan x="2367" dy="15">processed foods, we never</tspan><tspan x="2367" dy="15">want to talk badly about other</tspan><tspan x="2367" dy="15">types.</tspan></text></g>

<g id="c3-r5-q"><rect class="pr" x="2041" y="1911" width="238" height="66"/><text class="t" x="2160" y="1933.5">“I’m excited to try some different<tspan x="2160" dy="15">kibbles. Can I just buy a new one and</tspan><tspan x="2160" dy="15">start feeding right away?”</tspan></text></g>
<g id="c3-r5-a"><rect class="no" x="1856" y="2027" width="194" height="65" rx="20"/><text class="t" x="1953" y="2049">Since the foods I mentioned<tspan x="1953" dy="15">are all similar in fat content,</tspan><tspan x="1953" dy="15">you can go right ahead!</tspan></text></g>
<g id="c3-r5-b"><rect class="ok" x="2063" y="2027" width="194" height="65" rx="20"/><text class="t" x="2160" y="2049">Even if the fat content is<tspan x="2160" dy="15">nearly the same, it’s wise to</tspan><tspan x="2160" dy="15">do a short transition.</tspan></text></g>
<g id="c3-r5-c"><rect class="no" x="2270" y="2027" width="194" height="65" rx="20"/><text class="t" x="2367" y="2049">Since your dog’s eaten the<tspan x="2367" dy="15">same food this long, you</tspan><tspan x="2367" dy="15">need 1 month+ transition.</tspan></text></g>
<g id="c3-r5-fa"><rect class="fb" x="1856" y="2121" width="194" height="92"/><text class="t" x="1953" y="2156.5">Always suggest a transition,<tspan x="1953" dy="15">especially if the pet’s been on</tspan><tspan x="1953" dy="15">the same food for a long time.</tspan></text></g>
<g id="c3-r5-fb"><rect class="fb" x="2063" y="2121" width="194" height="92"/><text class="t" x="2160" y="2156.5">Yes! Make sure to also provide<tspan x="2160" dy="15">them a solution sheet</tspan><tspan x="2160" dy="15">covering transitions.</tspan></text></g>
<g id="c3-r5-fc"><rect class="fb" x="2270" y="2121" width="194" height="92"/><text class="t" x="2367" y="2156.5">The customer indicated the<tspan x="2367" dy="15">dog was healthy. A month</tspan><tspan x="2367" dy="15">transition is far too long.</tspan></text></g>
</svg>
